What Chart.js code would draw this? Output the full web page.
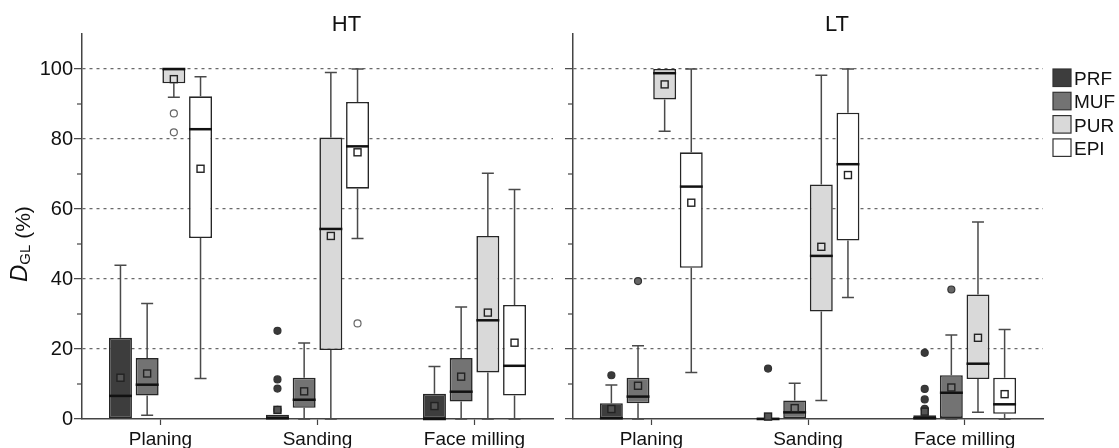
<!DOCTYPE html>
<html>
<head>
<meta charset="utf-8">
<script src="https://cdn.jsdelivr.net/npm/chart.js@4"></script>
<style>
  body { margin: 0; background: #fff; }
  #wrap { position: relative; width: 1119px; height: 448px; overflow: hidden; }
  .panel { position: absolute; top: 0; height: 460px; }
  #left { left: 0; width: 563px; }
  #right { left: 563px; width: 556px; }
</style>
</head>
<body>
<div id="wrap">
  <div class="panel" id="left"><canvas id="htChart" width="563" height="460"></canvas></div>
  <div class="panel" id="right"><canvas id="ltChart" width="556" height="460"></canvas></div>
</div>
<script>
const categories = ['Planing', 'Sanding', 'Face milling'];
const seriesNames = ['PRF', 'MUF', 'PUR', 'EPI'];
const yTicks = [0, 20, 40, 60, 80, 100];
const yMinorTicks = [10, 30, 50, 70, 90];

// HT: rows are PRF, MUF, PUR, EPI; columns follow categories
const htLow    = [[0, 0, 0], [1.1, 0, 0], [91.9, 0, 0], [11.6, 51.6, 0]];
const htQ1     = [[0, 0, 0], [6.7, 3.2, 5.0], [95.9, 19.7, 13.3], [51.7, 65.8, 6.7]];
const htMedian = [[6.6, 0.2, 0], [9.8, 5.5, 7.8], [100, 54.3, 28.2], [82.8, 77.9, 15.2]];
const htQ3     = [[23.2, 1.2, 7.2], [17.4, 11.8, 17.4], [100, 80.4, 52.3], [92.2, 90.6, 32.6]];
const htHigh   = [[43.9, 1.2, 15.0], [33.0, 21.7, 32.0], [100, 99.0, 70.2], [97.8, 100, 65.6]];
const htMean   = [[11.8, 2.6, 3.7], [13.0, 7.9, 12.1], [97.1, 52.3, 30.4], [71.5, 76.2, 21.8]];
const htOutliers = [[[], [25.2, 11.3, 8.7, 2.6], []], [[], [], []], [[87.3, 81.9], [], []], [[], [27.3], []]];

// LT
const ltLow    = [[0, 0, 0], [0, 0, 0], [82.2, 5.3, 1.9], [13.3, 34.7, 0]];
const ltQ1     = [[0, 0, 0], [4.5, 0, 0.3], [91.3, 30.7, 11.4], [43.2, 51.0, 1.5]];
const ltMedian = [[0.2, 0, 0.2], [6.4, 1.9, 7.5], [98.8, 46.6, 15.8], [66.4, 72.8, 4.2]];
const ltQ3     = [[4.5, 0.4, 1.1], [11.8, 5.3, 12.5], [100, 67.0, 35.6], [76.2, 87.5, 11.8]];
const ltHigh   = [[9.7, 0.4, 1.1], [20.9, 10.2, 24.0], [100, 98.2, 56.3], [100, 100, 25.6]];
const ltMean   = [[2.85, 0.7, 2.1], [9.5, 3.1, 9.0], [95.6, 49.2, 23.2], [61.8, 69.7, 7.1]];
const ltOutliers = [[[12.5], [14.4], [18.9, 8.6, 5.6, 2.9]], [[39.4], [], [37.0]], [[], [], []], [[], [], []]];

const FONT = 'Arial, "Liberation Sans", sans-serif';
const boxFill = ['#3d3d3d', '#737373', '#d9d9d9', '#ffffff'];
const meanFill = ['#555555', '#7a7a7a', '#dedede', '#ffffff'];
const outlierFill = ['#3a3a3a', '#666666', '#ffffff', '#ffffff'];

const panels = {
  htChart: { title: 'HT', low: htLow, q1: htQ1, median: htMedian, q3: htQ3, high: htHigh, mean: htMean, outliers: htOutliers, yTitle: true },
  ltChart: { title: 'LT', low: ltLow, q1: ltQ1, median: ltMedian, q3: ltQ3, high: ltHigh, mean: ltMean, outliers: ltOutliers, legend: true }
};

// whiskers, medians, means and outliers on top of the floating bars
const boxParts = {
  id: 'boxParts',
  beforeDatasetsDraw(chart) {
    const p = panels[chart.canvas.id];
    const y = chart.scales.y;
    const ctx = chart.ctx;
    ctx.save();
    ctx.strokeStyle = '#4a4a4a';
    ctx.lineWidth = 1.5;
    chart.data.datasets.forEach((ds, s) => {
      chart.getDatasetMeta(s).data.forEach((bar, i) => {
        const x = bar.x;
        const ends = [[p.q3[s][i], p.high[s][i]], [p.q1[s][i], p.low[s][i]]];
        ends.forEach(([from, to]) => {
          if (from === to) return;
          const y1 = y.getPixelForValue(from), y2 = y.getPixelForValue(to);
          ctx.beginPath();
          ctx.moveTo(x, y1); ctx.lineTo(x, y2);
          ctx.moveTo(x - 6, y2); ctx.lineTo(x + 6, y2);
          ctx.stroke();
        });
      });
    });
    ctx.restore();
  },
  afterDatasetsDraw(chart) {
    const p = panels[chart.canvas.id];
    const y = chart.scales.y;
    const ctx = chart.ctx;
    ctx.save();
    chart.data.datasets.forEach((ds, s) => {
      chart.getDatasetMeta(s).data.forEach((bar, i) => {
        const x = bar.x, w = bar.width;
        // median
        const ym = y.getPixelForValue(p.median[s][i]);
        ctx.strokeStyle = '#111';
        ctx.lineWidth = 2.5;
        ctx.beginPath();
        ctx.moveTo(x - w / 2, ym); ctx.lineTo(x + w / 2, ym);
        ctx.stroke();
        // outliers
        p.outliers[s][i].forEach(v => {
          ctx.beginPath();
          ctx.arc(x, y.getPixelForValue(v), 3.5, 0, Math.PI * 2);
          ctx.fillStyle = outlierFill[s];
          ctx.fill();
          ctx.lineWidth = 1.2;
          ctx.strokeStyle = s < 2 ? '#333' : '#666';
          ctx.stroke();
        });
        // mean
        const yc = y.getPixelForValue(p.mean[s][i]);
        ctx.fillStyle = meanFill[s];
        ctx.fillRect(x - 3.5, yc - 3.5, 7, 7);
        ctx.strokeStyle = '#222';
        ctx.lineWidth = 1.4;
        ctx.strokeRect(x - 3.5, yc - 3.5, 7, 7);
      });
    });
    ctx.restore();
  },
  afterDraw(chart) {
    const p = panels[chart.canvas.id];
    const y = chart.scales.y;
    const area = chart.chartArea;
    const ctx = chart.ctx;
    ctx.save();
    // minor ticks
    ctx.strokeStyle = '#444';
    ctx.lineWidth = 1.2;
    yMinorTicks.forEach(v => {
      const py = y.getPixelForValue(v);
      ctx.beginPath();
      ctx.moveTo(area.left - 5, py); ctx.lineTo(area.left, py);
      ctx.stroke();
    });
    // panel title
    ctx.fillStyle = '#111';
    ctx.font = '22px ' + FONT;
    ctx.textAlign = 'center';
    ctx.textBaseline = 'alphabetic';
    ctx.fillText(p.title, (area.left + area.right) / 2 + 29, 31);
    // axis title D_GL (%)
    if (p.yTitle) {
      ctx.save();
      ctx.translate(0, 282);
      ctx.rotate(-Math.PI / 2);
      ctx.textAlign = 'left';
      ctx.font = 'italic 24px ' + FONT;
      ctx.fillText('D', 0, 27);
      let xo = ctx.measureText('D').width;
      ctx.font = '15px ' + FONT;
      ctx.fillText('GL', xo, 30);
      xo += ctx.measureText('GL').width;
      ctx.font = '21px ' + FONT;
      ctx.fillText(' (%)', xo, 30);
      ctx.restore();
    }
    // legend
    if (p.legend) {
      const lx = area.right + 10;
      const top = y.getPixelForValue(100);
      ctx.font = '19px ' + FONT;
      ctx.textAlign = 'left';
      seriesNames.forEach((name, s) => {
        const ty = top + s * 23.3;
        ctx.fillStyle = boxFill[s];
        ctx.fillRect(lx, ty, 18, 17.5);
        ctx.strokeStyle = '#333';
        ctx.lineWidth = 1.2;
        ctx.strokeRect(lx, ty, 18, 17.5);
        ctx.fillStyle = '#111';
        ctx.fillText(name, lx + 21, ty + 16);
      });
    }
    ctx.restore();
  }
};

function makeChart(id, showLabels) {
  const p = panels[id];
  const datasets = seriesNames.map((name, s) => ({
    label: name,
    data: categories.map((c, i) => [p.q1[s][i], p.q3[s][i]]),
    backgroundColor: boxFill[s],
    borderColor: '#262626',
    borderWidth: 1.6,
    borderSkipped: false,
    categoryPercentage: 0.68,
    barPercentage: 0.86
  }));

  return new Chart(document.getElementById(id), {
    type: 'bar',
    data: { labels: categories, datasets: datasets },
    options: {
      responsive: false,
      animation: false,
      devicePixelRatio: 1,
      layout: { padding: showLabels ? { left: 0, right: 10, top: 34, bottom: 0 } : { left: 2, right: 76, top: 34, bottom: 0 } },
      plugins: { legend: { display: false }, tooltip: { enabled: false } },
      scales: {
        x: {
          grid: { offset: false, drawOnChartArea: false, drawTicks: true, tickLength: 6, tickColor: '#444', tickWidth: 1.2 },
          border: { color: '#444', width: 1.5 },
          ticks: { color: '#111', font: { family: FONT, size: 19 }, padding: 3 },
          afterFit: s => { s.height = 41; }
        },
        y: {
          min: 0,
          max: 110,
          afterBuildTicks: s => { s.ticks = yTicks.map(v => ({ value: v })); },
          grid: {
            color: c => (c.tick && c.tick.value === 0) ? 'rgba(0,0,0,0)' : '#6a6a6a',
            lineWidth: 1.3,
            tickLength: 8,
            tickColor: '#444',
            tickWidth: 1.2
          },
          border: { color: '#444', width: 1.5, dash: [3, 4] },
          ticks: { display: showLabels, color: '#111', font: { family: FONT, size: 20 }, padding: 1 },
          afterFit: s => { s.width = showLabels ? 82 : 8; }
        }
      }
    },
    plugins: [boxParts]
  });
}

makeChart('htChart', true);
makeChart('ltChart', false);
</script>
</body>
</html>
